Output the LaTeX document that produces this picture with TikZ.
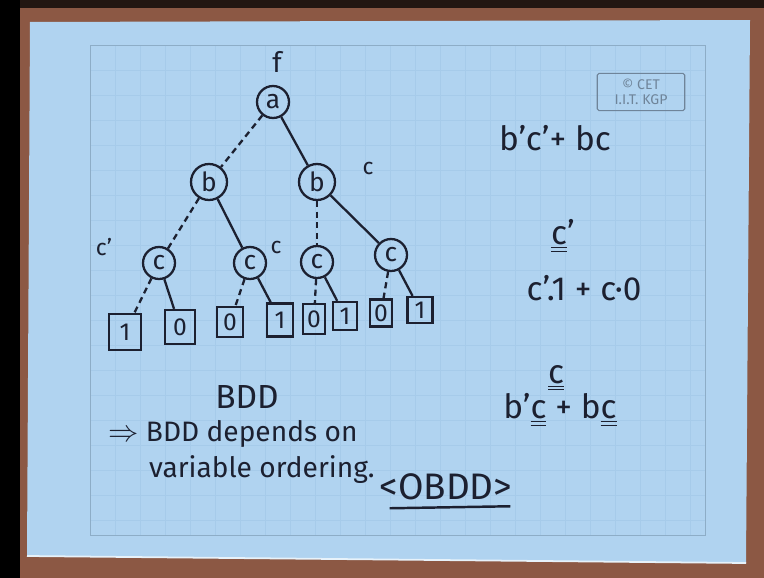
\documentclass[tikz,border=0pt]{standalone}
\usepackage{fontspec}
\setmainfont{Fira Sans}
\usetikzlibrary{positioning, calc}

\definecolor{ink}{HTML}{1c2030}
\definecolor{paper}{HTML}{b0d3f0}
\definecolor{gridline}{HTML}{a6cbea}
\definecolor{wood}{HTML}{8c5844}
\definecolor{logo}{HTML}{6f8499}

\begin{document}
\begin{tikzpicture}[x=0.02cm, y=-0.02cm]

\tikzset{
  var/.style={circle, draw=ink, line width=1.3pt, minimum size=0.64cm, inner sep=0pt, text=ink, font=\fontsize{15}{16}\selectfont},
  leaf/.style={rectangle, draw=ink, line width=1.3pt, minimum width=0.5cm, minimum height=0.6cm, inner sep=0pt, text=ink, font=\fontsize{14}{16}\selectfont},
  hi/.style={draw=ink, line width=1.3pt},
  lo/.style={draw=ink, line width=1.3pt, dash pattern=on 3.5pt off 2.5pt},
  hand/.style={text=ink, font=\fontsize{16}{19}\selectfont, inner sep=1pt},
  big/.style={hand, font=\fontsize{19}{22}\selectfont},
  note/.style={text=ink, font=\fontsize{13}{15}\selectfont, inner sep=1pt}
}

\useasboundingbox (0,0) rectangle (764,578);

%board
\fill[wood] (0,0) rectangle (764,578);
\fill[black] (0,0) rectangle (20,578);
\fill[black!75!wood] (20,0) rectangle (764,8);
\fill[paper] (30,22) -- (750,20) -- (746,563) -- (27,556) -- cycle;
\draw[white!70!paper, line width=1pt] (27,556) -- (746,563);
\foreach \gx in {115,140,...,690}
  \draw[gridline, line width=0.3pt] (\gx,45) -- (\gx,535);
\foreach \gy in {70,95,...,520}
  \draw[gridline, line width=0.3pt] (90,\gy) -- (705,\gy);
\draw[gridline!85!black, line width=0.4pt] (90,45) rectangle (705,535);

%logo
\node[draw=logo, line width=0.6pt, rounded corners=1pt, text=logo, align=center,
  font=\fontsize{8}{8.5}\selectfont, minimum width=1.75cm, minimum height=0.6cm] (logo) at (641,92) {\copyright{} CET\\I.I.T. KGP};

%tree
\node[hand] (f) at (277,62) {f};
\node[var] (a) at (273,102) {a};
\node[var, minimum size=0.72cm] (b1) at (209,182) {b};
\node[var, minimum size=0.72cm] (b2) at (317,182) {b};
\node[var] (c1) at (159,263) {c};
\node[var] (c2) at (250,263) {c};
\node[var] (c3) at (317,262) {c};
\node[var] (c4) at (391,255) {c};

\node[leaf, minimum width=0.64cm, minimum height=0.72cm] (l1) at (125,332) {1};
\node[leaf, minimum width=0.6cm, minimum height=0.68cm] (l2) at (180,327) {0};
\node[leaf, minimum width=0.52cm] (l3) at (230,322) {0};
\node[leaf, minimum width=0.52cm, minimum height=0.66cm] (l4) at (280,320) {1};
\node[leaf, minimum width=0.44cm] (l5) at (314,319) {0};
\node[leaf, minimum width=0.48cm, minimum height=0.56cm] (l6) at (345,316) {1};
\node[leaf, minimum width=0.44cm, minimum height=0.54cm] (l7) at (381,313) {0};
\node[leaf, minimum width=0.5cm, minimum height=0.52cm] (l8) at (420,310) {1};

\draw[lo] (a) -- (b1);
\draw[hi] (a) -- (b2);
\draw[lo] (b1) -- (c1);
\draw[hi] (b1) -- (c2);
\draw[lo] (b2) -- (c3);
\draw[hi] (b2) -- (c4);
\draw[lo] (c1) -- (l1);
\draw[hi] (c1) -- (l2);
\draw[lo] (c2) -- (l3);
\draw[hi] (c2) -- (l4);
\draw[lo] (c3) -- (l5);
\draw[hi] (c3) -- (l6);
\draw[lo] (c4) -- (l7);
\draw[hi] (c4) -- (l8);

\node[note] (cb2) at (368,168) {c};
\node[note] (cc1) at (104,247) {c'};
\node[note] (cc2) at (276,247) {c};

%formulas
\node[big] (e1) at (555,138) {b'c'+ bc};
\node[big] (e2) at (563,236) {\underline{\underline{c}}'};
\node[big] (e3) at (584,288) {c'.1 + c·0};
\node[big] (e4) at (556,378) {\underline{\underline{c}}};
\node[big] (e5) at (560,410) {b'\underline{\underline{c}} + b\underline{\underline{c}}};

%notes
\node[big] (bdd) at (247,397) {BDD};
\node[hand, anchor=west] (dep) at (106,434) {$\Rightarrow$ BDD depends on};
\node[hand, anchor=west] (ord) at (147,470) {variable ordering.};
\node[hand, font=\fontsize{21}{24}\selectfont] (obdd) at (446,487) {<OBDD>};
\draw[ink, line width=1.4pt] ($(obdd.south west)+(12,6)$) -- ($(obdd.south east)+(-4,4)$);

\end{tikzpicture}
\end{document}
